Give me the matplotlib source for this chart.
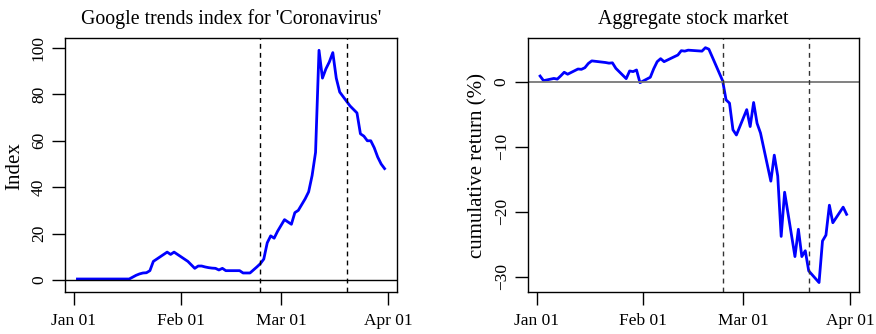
import numpy as np
import pandas as pd
import matplotlib
matplotlib.use("Agg")
import matplotlib.pyplot as plt
import matplotlib.dates as mdates

plt.rcParams['font.family'] = ['Liberation Serif', 'DejaVu Serif']

# Google trends index, daily from Jan 02 to Mar 31 2020
trend_dates = pd.date_range("2020-01-02", "2020-03-31", freq="D")
trend_values = [0.4, 0.4, 0.4, 0.4, 0.4, 0.4, 0.4, 0.4, 0.4, 0.4, 0.4, 0.4, 0.4, 0.4, 0.4, 0.4,
                1.2, 2, 2.6, 3, 3.1, 4, 8, 9, 10, 11, 12, 11, 12, 11, 10, 9, 8, 6.5, 5, 6, 6,
                5.6, 5.3, 5.1, 5, 4.3, 5, 4, 4, 4, 4, 4, 3, 3, 3, 4.3, 5.6, 7, 9, 16, 19, 18,
                21, 23.5, 26, 25, 24, 29, 30, 32.5, 35, 38, 45, 55, 99, 87, 91, 94, 98, 87,
                81, 79, 77, 75, 73.5, 72, 63, 62, 60, 60, 57, 53, 50, 48]

# Aggregate stock market cumulative return (%), trading days
stock_dates = pd.to_datetime([
    "2020-01-02", "2020-01-03", "2020-01-06", "2020-01-07", "2020-01-08", "2020-01-09",
    "2020-01-10", "2020-01-13", "2020-01-14", "2020-01-15", "2020-01-16", "2020-01-17",
    "2020-01-21", "2020-01-22", "2020-01-23", "2020-01-24", "2020-01-27", "2020-01-28",
    "2020-01-29", "2020-01-30", "2020-01-31", "2020-02-03", "2020-02-04", "2020-02-05",
    "2020-02-06", "2020-02-07", "2020-02-10", "2020-02-11", "2020-02-12", "2020-02-13",
    "2020-02-14", "2020-02-18", "2020-02-19", "2020-02-20", "2020-02-21", "2020-02-24",
    "2020-02-25", "2020-02-26", "2020-02-27", "2020-02-28", "2020-03-02", "2020-03-03",
    "2020-03-04", "2020-03-05", "2020-03-06", "2020-03-09", "2020-03-10", "2020-03-11",
    "2020-03-12", "2020-03-13", "2020-03-16", "2020-03-17", "2020-03-18", "2020-03-19",
    "2020-03-20", "2020-03-23", "2020-03-24", "2020-03-25", "2020-03-26", "2020-03-27",
    "2020-03-30", "2020-03-31"])
stock_values = [0.87, 0.16, 0.5, 0.4, 0.9, 1.45, 1.15, 1.95, 1.9, 2.15, 2.8, 3.2,
                2.95, 2.85, 2.9, 2.05, 0.47, 1.65, 1.55, 1.8, -0.15, 0.68, 2.0, 3.08,
                3.54, 3.08, 3.85, 4.1, 4.77, 4.7, 4.85, 4.7, 5.23, 5.0, 3.8, 0.15,
                -2.8, -3.3, -7.4, -8.2, -4.3, -6.9, -3.2, -6.4, -7.9, -15.3, -11.3, -14.5,
                -23.8, -17.0, -26.9, -22.7, -26.9, -26.0, -29.1, -30.9, -24.5, -23.6, -19.0, -21.7,
                -19.3, -20.4]

event_dates = pd.to_datetime(["2020-02-24", "2020-03-20"])
tick_dates = pd.to_datetime(["2020-01-01", "2020-02-01", "2020-03-01", "2020-04-01"])

jan1 = mdates.date2num(pd.Timestamp("2020-01-01"))
xlim = (jan1 - 2.6, jan1 + 93.6)


def style_axis(ax, yticks):
    ax.set_xlim(xlim)
    ax.set_xticks(mdates.date2num(tick_dates))
    ax.xaxis.set_major_formatter(mdates.DateFormatter("%b %d"))
    ax.set_yticks(yticks)
    for lab in ax.get_yticklabels():
        lab.set_rotation(90)
        lab.set_va('center')
    ax.tick_params(direction='out', length=9.5, width=1, labelsize=12.5, colors='black')
    ax.tick_params(axis='x', pad=5.5)
    ax.tick_params(axis='y', pad=3.5)
    for sp in ax.spines.values():
        sp.set_linewidth(1)


fig = plt.figure(figsize=(8.76, 3.34), dpi=100)

# Left panel: Google trends
ax1 = fig.add_axes([65 / 876, 42 / 334, 332 / 876, 254 / 334])
ax1.plot(mdates.date2num(trend_dates), trend_values, color='#0000FF', lw=2)
ax1.axhline(0, color='black', lw=1)
for d in event_dates:
    ax1.axvline(mdates.date2num(d), color='black', lw=1, linestyle=(0, (3.5, 3)))
ax1.set_ylim(-5.2, 104.3)
style_axis(ax1, [0, 20, 40, 60, 80, 100])
ax1.set_title("Google trends index for 'Coronavirus'", fontsize=14.3, pad=10)
fig.text(15 / 876, 1 - 166 / 334, "Index", rotation=90, ha='center', va='center', fontsize=15)

# Right panel: stock market
ax2 = fig.add_axes([527.7 / 876, 42 / 334, 331.3 / 876, 254 / 334])
ax2.plot(mdates.date2num(stock_dates), stock_values, color='#0000FF', lw=2)
ax2.axhline(0, color='#777777', lw=1.3)
for d in event_dates:
    ax2.axvline(mdates.date2num(d), color='#333333', lw=1, linestyle=(0, (3.5, 3)))
ax2.set_ylim(-32.35, 6.72)
style_axis(ax2, [-30, -20, -10, 0])
ax2.set_title("Aggregate stock market", fontsize=14.3, pad=10)
fig.text(478 / 876, 1 - 166 / 334, "cumulative return (%)", rotation=90,
         ha='center', va='center', fontsize=15)

fig.savefig("out.png", dpi=100)
